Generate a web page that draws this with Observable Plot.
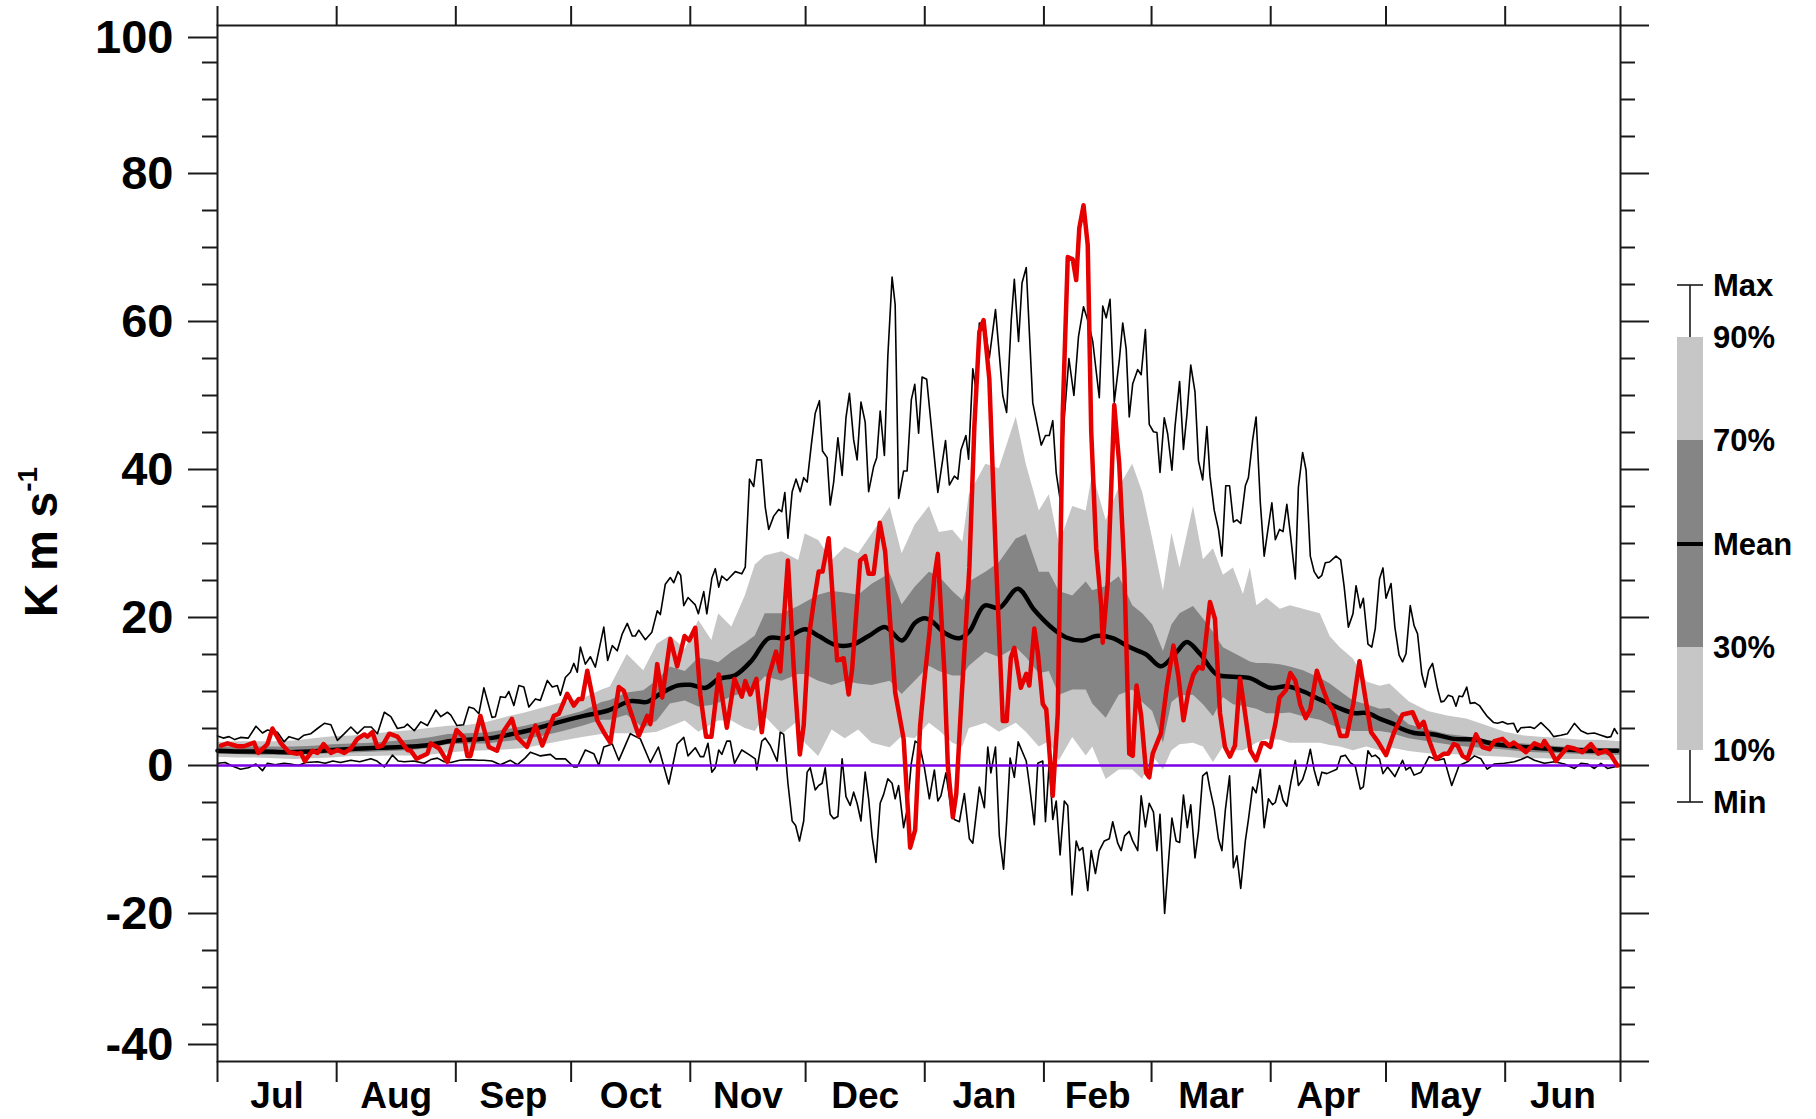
<!DOCTYPE html>
<html><head><meta charset="utf-8">
<script src="https://cdn.jsdelivr.net/npm/d3@7"></script>
<script src="https://cdn.jsdelivr.net/npm/@observablehq/plot@0.6"></script>
<style>
html,body{margin:0;padding:0;background:#fff;}
#chart{position:relative;width:1816px;height:1119px;}
</style></head><body><div id="chart"></div>
<script>
const monthNames = ["Jul","Aug","Sep","Oct","Nov","Dec","Jan","Feb","Mar","Apr","May","Jun"];
const monthStarts = [0,31,62,92,123,153,184,215,243,274,304,335,365];
const monthMids = [15.5,46.5,77,107.5,138,168.5,199.5,229,258.5,289,319.5,350];
const yMajor = [-40,-20,0,20,40,60,80,100];
const yLabelsMid = [-20,0,20,40,60,80];
const yMinor = [-35,-30,-25,-15,-10,-5,5,10,15,25,30,35,45,50,55,65,70,75,85,90,95];
const legendLabels = ["Max","90%","70%","Mean","30%","10%","Min"];

// percentile bands (day of year from 1 July)
const bandDays = [0,5,10,15,20,25,30,35,40,45,50,55,60,65,70,75,80,85,90,95,100,102.2,106.6,110.9,114.4,117.8,121.7,125.2,128.6,130.4,133.8,137.3,139.9,142.5,146.9,151.2,152.9,156.4,159.9,163.3,166.8,170.3,175,178.1,181.5,185.2,187.8,191.3,193.9,195.6,199.9,203.4,207.8,210.4,213.8,216.4,219,222.5,226,227.7,231.2,234.6,238.1,240.7,243.3,246.1,248.3,250.4,253.9,256.5,259.1,261.7,264.3,266.9,268.7,270.4,273,276.5,279.1,282.5,286.9,289.5,292.1,295.5,299,302.5,305,310,315,320,325,330,335,340,345,350,355,360,365];
const q10 = [1.1,1.0,1.0,0.9,0.8,0.9,1.0,1.2,1.2,1.3,1.3,1.4,1.7,1.9,2.0,2.1,2.3,2.8,3.3,3.8,4.2,4.3,4.3,4.3,4.5,5.2,6.0,4.5,5.5,6.0,6.0,5.0,4.6,6.6,4.2,6.0,3.0,1.2,4.8,3.6,4.8,3.0,2.4,3.9,3.6,5.7,4.7,3.0,2.5,5.0,5.7,4.5,5.7,4.5,2.5,3.2,0.6,3.8,1.3,2.5,-1.9,-0.6,-0.6,-1.9,1.3,-0.6,2.0,2.8,3.0,2.5,0.4,2.5,2.0,2.0,2.5,3.0,3.5,3.4,3.0,3.0,3.0,2.7,2.5,2.0,2.5,2.0,2.4,1.9,1.6,1.5,1.4,1.2,1.1,0.9,0.9,0.8,0.8,0.7,0.7];
const q30 = [1.5,1.5,1.4,1.4,1.4,1.5,1.6,1.7,1.8,1.9,2.0,2.3,2.8,2.9,2.9,3.2,3.5,4.0,4.6,5.3,6.1,6.1,6.8,5.0,6.0,8.3,8.7,7.9,8.1,8.4,9.3,9.8,10.5,12.0,11.4,12.3,12.3,11.4,10.8,11.4,11.0,10.8,11.4,9.6,11.4,13.4,12.7,12.1,12.1,13.4,15.3,14.6,15.9,14.6,12.4,12.7,9.5,10.2,10.2,8.3,6.4,9.5,10.2,8.5,7.3,3.0,8.5,9.4,9.5,8.2,6.6,9.2,8.2,8.0,7.8,7.6,7.0,7.0,7.1,6.6,6.1,5.5,5.0,4.6,4.6,4.6,4.4,3.6,3.2,2.8,2.5,2.3,2.1,1.8,1.7,1.6,1.5,1.4,1.4];
const q70 = [2.5,2.5,2.5,2.5,2.5,2.6,2.8,2.9,3.0,3.2,3.4,3.7,4.2,4.3,4.4,4.8,5.3,5.9,6.6,7.3,8.5,8.8,9.8,10.1,11.5,13.3,12.7,14.5,14.2,13.9,15.3,16.5,17.5,20.5,20.5,21.5,22.0,23.0,23.5,23.3,23.0,24.5,25.9,21.7,24.1,26.1,25.5,23.5,22.3,24.8,26.1,27.4,30.6,31.2,26.1,26.1,23.5,22.9,24.8,23.6,24.2,25.5,21.6,20.5,19.0,15.4,19.0,20.5,21.5,19.8,18.0,15.9,15.2,14.5,14.0,13.8,13.8,13.6,13.3,12.8,11.8,11.0,10.0,8.7,8.2,7.6,7.7,5.5,4.8,4.2,3.9,3.4,3.1,2.9,2.7,2.5,2.4,2.3,2.3];
const q90 = [3.1,3.2,3.2,3.2,3.3,3.6,3.9,4.0,4.2,4.5,4.7,5.0,5.3,5.4,5.8,6.5,7.1,7.8,8.5,9.0,10.2,10.6,15.0,12.8,16.4,17.5,15.7,19.6,16.9,20.5,18.7,22.9,27.1,28.3,28.9,27.7,31.3,30.4,27.7,29.5,28.6,31.3,34.9,28.6,32.5,35.0,31.5,31.8,30.2,36.6,40.7,40.1,47.1,40.7,34.4,36.6,29.9,35.0,34.4,39.5,33.1,37.6,40.7,36.9,30.6,23.6,31.4,26.7,35.0,27.8,29.3,25.7,26.7,23.1,26.7,21.6,22.6,21.1,21.6,21.1,20.5,17.4,15.9,14.4,11.3,10.7,11.0,8.6,7.3,6.7,6.3,5.4,4.5,4.0,3.8,3.6,3.4,3.4,3.2];

const meanSeries = [[0,2.0],[6,1.9],[12,1.9],[18,1.8],[24,1.9],[30,2.1],[36,2.25],[42,2.4],[48,2.5],[54,2.7],[60.7,3.3],[66,3.5],[71,3.7],[78,4.4],[83,5.0],[88.4,5.8],[95.3,6.7],[101.4,7.4],[107.4,8.7],[111.8,8.6],[115.2,9.7],[119.6,10.8],[123,10.9],[127,10.5],[130.4,11.7],[134.7,12.2],[139,14.2],[143.4,17.2],[147.7,17.2],[152.9,18.4],[156.4,17.5],[160.7,16.3],[165,16.3],[169.4,17.5],[173.7,18.7],[178.1,16.9],[181.5,19.3],[184.1,19.9],[186,19.4],[189.5,17.8],[193,17.2],[195.6,18.1],[199.5,21.6],[203.4,21.3],[208.2,23.9],[212.5,21.0],[217.3,18.5],[220.8,17.3],[225.1,16.9],[228.6,17.5],[232.9,17.2],[237.2,16.0],[241.6,15.0],[245.5,13.4],[249.6,15.4],[252.2,16.7],[255.6,15.1],[260,12.3],[264.3,12.0],[268.6,11.8],[273.9,10.5],[278.2,10.7],[282.5,10.0],[286.9,8.9],[291.2,7.9],[295.5,7.1],[299,7.1],[302.5,6.3],[306,5.6],[307.9,5.0],[311.3,4.4],[316.5,4.2],[321.7,3.6],[327,3.5],[332.2,2.9],[337.4,2.6],[342.6,2.4],[347.8,2.2],[353,2.1],[358.2,2.0],[364.2,2.0]];

const maxSeries = [[0,4.0],[1.5,3.7],[3,3.9],[4.5,3.5],[6,3.8],[8,3.7],[10,5.3],[11.7,4.4],[13,4.8],[15.6,4.5],[17.3,3.2],[18.6,3.9],[21,3.5],[22.5,4.1],[24.3,4.3],[26,5.0],[27.8,5.7],[29.5,5.5],[31.2,3.4],[33,4.3],[34.7,5.2],[36.4,4.3],[38.2,5.2],[40,5.2],[41.6,4.3],[43.4,7.2],[45.1,6.6],[46.8,5.0],[48.6,5.2],[49.4,5.6],[51.2,4.7],[52.9,5.9],[54.6,5.4],[56.8,7.5],[58.1,6.6],[59.8,7.2],[60.7,6.8],[62.3,5.4],[64,5.5],[65.4,7.9],[66.7,7.7],[68,7.0],[69.3,10.5],[71.4,6.5],[72.3,6.6],[73.6,9.3],[74.9,9.2],[75.8,10.0],[77.1,8.1],[78.4,10.8],[79.7,10.6],[81,7.9],[82.7,9.0],[84,8.8],[85.8,11.5],[87.1,10.6],[88.4,10.8],[89.2,9.5],[90.5,11.9],[91.8,12.6],[92.7,13.8],[93.6,12.6],[94.4,16.0],[95.7,13.7],[97,14.7],[98.3,13.3],[100.5,18.7],[101.5,14.2],[102.7,16.2],[104,15.5],[105.3,17.8],[106.6,19.2],[107.9,17.5],[108.7,17.5],[109.6,18.3],[111.3,17.0],[113,18.0],[114.4,20.9],[115.2,20.4],[116.5,24.5],[117.8,25.4],[118.7,24.7],[119.8,26.2],[120.5,25.7],[121.3,21.6],[122.4,22.7],[124.3,21.7],[125.1,20.5],[126.5,23.5],[127.3,20.5],[128.6,25.3],[129.5,26.6],[130.4,24.1],[131.2,25.6],[132.5,25.0],[134.7,26.2],[136.4,25.9],[137.3,26.8],[138.4,38.7],[139.5,37.7],[140.3,41.3],[141.5,41.3],[142.5,34.9],[143.4,31.9],[144.7,33.7],[146,34.6],[146.8,34.3],[147.6,36.9],[148.4,30.7],[149.5,37.0],[150.5,38.7],[151.6,37.0],[152.5,38.9],[153.4,38.3],[154.5,43.4],[155.5,47.6],[156.6,49.3],[157.4,42.5],[158.6,41.6],[159.4,35.2],[160.3,38.3],[161.4,44.3],[162.5,39.2],[163.5,47.0],[164.4,50.3],[165.5,44.0],[166.4,41.3],[167.4,49.1],[168.5,46.4],[169.4,37.0],[170.7,40.4],[171.5,41.6],[172.4,47.9],[173.5,41.9],[174.4,55.4],[175.5,66.0],[176.3,62.3],[177.2,36.1],[178.5,39.8],[179.4,39.8],[180.5,49.4],[181.4,51.5],[182.4,44.9],[183.3,52.5],[184.5,52.2],[186,44.2],[187.4,36.9],[189.4,43.9],[190.4,37.9],[191.7,39.1],[192.6,38.7],[193.4,42.6],[194.7,44.6],[195.4,41.4],[196.5,53.6],[197.3,50.9],[198.2,59.8],[199.5,59.8],[200.8,55.1],[202.4,61.6],[204.3,50.0],[205.3,47.7],[206.5,60.2],[207.3,65.7],[208.4,57.3],[209.3,65.2],[210.4,67.3],[212.1,49.0],[214.3,43.3],[215.4,44.6],[216.4,44.6],[217.3,46.6],[218.2,39.5],[219.2,36.0],[220.3,47.0],[221.5,55.0],[222.8,50.0],[224,58.0],[225.3,62.0],[226.5,60.0],[227.7,57.3],[229.4,49.7],[230.3,62.1],[231.2,60.5],[232.2,63.0],[233.3,49.1],[234.6,54.7],[235.5,59.8],[236.4,56.3],[237.2,47.1],[238.1,51.6],[239.4,53.5],[240.3,52.8],[241.4,58.9],[242.4,46.1],[243.5,45.1],[244.4,45.0],[245.2,39.6],[246.3,47.0],[247.2,44.8],[248.3,39.9],[249.1,45.8],[250.3,51.9],[251.3,42.7],[252.2,47.4],[253.2,54.1],[254.3,50.5],[255.2,41.2],[256.3,38.6],[257.4,45.8],[258.2,39.1],[259.3,34.5],[260.4,31.9],[261.3,28.3],[262.3,37.8],[263.3,37.8],[264.3,32.9],[265.2,33.2],[266.2,32.7],[267.4,37.8],[268.2,38.9],[269.3,44.0],[270.2,47.1],[271.3,35.5],[272.3,28.3],[273.2,31.6],[274.3,35.5],[275.2,30.5],[276.3,31.9],[277.2,31.6],[278.2,35.3],[279.2,30.9],[280.4,25.2],[281.2,37.6],[282.3,42.3],[283.2,39.9],[284.3,28.3],[285.3,26.2],[286.4,25.3],[287.3,25.7],[288.2,27.4],[289.3,27.5],[291,28.3],[292.2,27.8],[293.1,24.2],[294.2,18.7],[295.4,20.5],[296.2,24.3],[297.3,21.3],[298.1,22.6],[299.3,16.4],[300.3,16.0],[301.2,18.5],[302.3,25.2],[303.2,26.7],[304,22.6],[305.3,24.6],[306.3,18.7],[307.4,14.9],[308.3,14.0],[309.2,15.1],[310.3,21.6],[311.3,18.9],[312.2,17.8],[313.3,12.4],[314.2,10.6],[315.1,12.9],[316.1,13.8],[317.4,10.4],[318.3,8.6],[319.1,8.7],[320.2,9.5],[321.3,9.3],[322.2,8.0],[323,9.4],[323.9,9.3],[325,10.6],[325.9,8.4],[327.1,8.5],[328.3,8.1],[329.1,7.5],[330.4,6.6],[332,5.8],[333,5.7],[334.3,5.9],[335.6,5.6],[337.2,5.7],[338.2,4.5],[339.1,5.1],[341.5,5.2],[342.6,5.0],[344.3,5.8],[346.5,4.7],[347.6,3.9],[349.5,4.1],[351.2,4.3],[353,5.7],[354.7,4.7],[356.4,4.3],[358.2,4.4],[359.9,4.1],[361.6,3.8],[362.5,3.9],[363.4,5.0],[364.2,4.3]];

const minSeries = [[0,0.3],[2,0.4],[4,-0.1],[6,-0.5],[8,-0.3],[10,0.2],[11.7,-0.7],[13,0.3],[15,0.1],[17.3,0.3],[19,0.2],[21,0],[23,0.4],[26,0.5],[28,0.3],[30,0.6],[32,0.4],[34.7,0.7],[37,0.5],[39.9,0.9],[41.5,0.6],[43.4,-0.2],[45.5,1.4],[47,0.6],[48.6,0.5],[51,0.6],[53.8,0.3],[55.5,0.8],[57.2,1.0],[59,0.5],[60.7,0.4],[63,0.7],[65.5,0.8],[68,0.7],[69.3,0.7],[71.4,0.6],[73.6,0.1],[76.2,0.7],[78,0.1],[80,1.0],[81.4,1.8],[83,1.5],[84,1.3],[86.6,1.5],[88,0.9],[90.5,0.9],[92.7,-0.2],[93.6,-0.2],[95.7,2.1],[97.9,1.6],[99.2,0],[100.5,2.5],[102.7,2.9],[104.4,0.7],[107.4,4.3],[110,3.6],[112.6,0.4],[114.7,2.5],[117.4,-2.5],[119.6,2.9],[121.3,3.8],[122.4,1.3],[124.3,2.4],[125.6,1.2],[126.5,1.2],[127.6,3.0],[128.6,-0.9],[129.5,-0.3],[130.4,2.1],[131.2,1.5],[132.5,3.3],[133.4,3.3],[134.5,0.3],[136.4,2.1],[138.2,1.5],[139.9,0.9],[140.3,-0.6],[141.6,3.3],[142.5,3.7],[143.8,2.7],[145.6,0.6],[146.4,4.5],[147.3,4.2],[148.4,-2.4],[149.5,-7.5],[150.4,-8.1],[151.4,-10.2],[152.5,-7.5],[153.4,-0.9],[154.2,-0.3],[155.5,-3.3],[156.4,-2.7],[157.3,-2.4],[158.1,-0.3],[159.4,-6.6],[160.3,-7.2],[161.4,-6.9],[162.5,0.9],[163.5,-4.2],[164.6,-5.4],[165.5,-3.6],[166.4,-5.1],[167.4,-7.5],[168.5,-0.9],[169.4,-4.5],[170.3,-9.6],[171.3,-13.1],[172.4,-5.1],[173.3,-3.9],[174.4,-1.8],[175.5,-2.4],[176.3,-4.5],[177.2,-2.7],[178.5,-8.4],[179.4,-6.0],[180.5,0.3],[181.5,3.3],[182.6,2.9],[183.9,-0.3],[185.2,-4.5],[186.5,-0.6],[187.4,-4.8],[188.2,-4.1],[189.5,-1.0],[190.8,-5.7],[191.7,-7.3],[193,-7.6],[194.3,-3.8],[195.6,-9.9],[196.5,-10.5],[198.2,-2.9],[199.5,-5.7],[200.4,2.5],[201.2,-1.0],[202.4,2.5],[203.4,-9.5],[204.5,-14.0],[205.3,-7.6],[206.2,1.0],[207.3,-1.6],[208.3,3.2],[210.4,0.6],[211.2,-2.5],[212.5,-8.0],[213.4,0.3],[214.7,0.6],[215.4,-7.6],[216.4,0.6],[217.3,-7.3],[218.2,-4.8],[219.2,-12.1],[220.3,-4.8],[221.2,-5.4],[222.3,-17.5],[223.4,-10.2],[224.2,-11.5],[225.1,-11.1],[226.4,-16.9],[227.3,-11.5],[228.4,-14.6],[229.4,-11.5],[230.7,-10.2],[232,-9.9],[232.9,-7.6],[234.2,-10.5],[235.1,-11.5],[236,-9.5],[237.2,-8.9],[238.1,-10.2],[239.4,-11.5],[240.3,-4.1],[241.4,-8.3],[242.4,-5.1],[243.5,-6.3],[244.4,-11.5],[245.2,-6.6],[246.4,-20.0],[247.4,-13.0],[248.3,-7.1],[249.4,-10.2],[250.3,-10.4],[251.3,-4.0],[252.3,-8.4],[253.2,-5.3],[254.3,-12.5],[255.2,-8.9],[256.3,-1.4],[257.4,-0.9],[258.2,-3.2],[259.3,-5.8],[260.4,-9.9],[261.3,-11.5],[262.2,-6.0],[263.3,-1.4],[264.3,-13.8],[265.2,-12.2],[266.2,-16.6],[267.4,-10.2],[268.2,-7.3],[269.3,-2.9],[270.2,-3.7],[271.3,-0.5],[272.3,-8.4],[273.4,-4.5],[274.5,-5.3],[275.2,-5.0],[276.3,-2.7],[277.2,-4.7],[278.2,-5.5],[279.2,-2.4],[280.4,0.7],[281.2,-2.7],[282.3,-1.9],[283.2,-0.4],[284.3,2.2],[285.3,-0.6],[286.4,-2.7],[287.3,-0.9],[288.6,-1.1],[291.2,-0.5],[292.2,1.2],[293.4,1.4],[294.7,0.4],[296,-0.1],[297.3,-3.2],[298.1,-2.9],[299.3,2.0],[300.3,1.2],[301.2,1.4],[302.3,0.9],[303.2,-1.1],[304.4,-0.2],[306.3,-1.5],[308.3,0.7],[309.2,-0.6],[310.3,-0.2],[311.3,-1.3],[313.1,-0.9],[315.2,1.2],[317.4,0.7],[319.1,0.9],[321.1,-2.7],[323,0],[325.2,0.5],[327,1.3],[328.7,0.9],[330.3,-0.5],[332.2,0.2],[334.8,0.3],[337.4,0.5],[339.1,0.8],[340.8,1.2],[342.6,0.7],[345.2,0.3],[347.8,0.5],[350.4,0.2],[353,-0.4],[354.7,0.3],[356.4,0.2],[358.2,-0.4],[359.9,0.3],[361.6,-0.4],[364.2,-0.1]];

const redSeries = [[0.9,2.7],[2.6,3.0],[5.2,2.6],[6.9,2.6],[9.5,3.1],[10.6,1.7],[13,2.9],[14.3,5.0],[16.5,3.0],[18.6,1.8],[20.8,1.6],[21.7,1.7],[22.7,0.6],[24.7,2.0],[26,1.7],[27.6,2.9],[29.5,1.7],[31.2,2.1],[33,1.7],[34.7,2.3],[36.4,3.6],[38.2,4.2],[39,3.9],[40.3,4.5],[41.6,2.5],[42.9,2.7],[44.7,4.3],[46.8,3.9],[49.4,2.1],[50.3,2.0],[51.8,0.9],[54.6,1.6],[55.5,3.0],[57.7,2.3],[59.8,0.5],[62.2,4.8],[64.1,3.8],[65,1.3],[65.8,1.3],[68.4,6.7],[70.6,2.5],[72.7,2.0],[74.5,4.7],[76.6,6.3],[78,3.8],[80.5,2.5],[82.7,5.4],[84.5,2.7],[87.5,6.7],[88.8,7.0],[91,9.7],[92.7,8.1],[94,9.0],[94.9,9.0],[96.2,12.8],[98.8,6.1],[100.5,4.5],[102.2,3.1],[104.4,10.6],[105.7,10.1],[107.4,7.4],[109.6,4.0],[111.8,6.7],[112.6,5.6],[114.4,13.7],[115.7,9.2],[117.8,17.1],[119.6,13.4],[121.5,17.5],[122.7,16.9],[124.3,18.6],[125.6,9.6],[127.1,3.9],[128.5,3.9],[130.4,12.3],[132.5,5.1],[134.5,11.7],[136.4,9.3],[137.3,11.4],[138.6,9.6],[140.2,11.7],[141.6,4.5],[143.4,12.0],[145.3,15.4],[146.4,12.7],[148.4,27.7],[149.9,13.3],[151.5,1.5],[152.5,5.4],[153.8,17.2],[155.1,22.0],[156.4,26.2],[157.4,26.2],[159,30.7],[161.2,14.2],[162.9,14.5],[164.2,9.6],[165.1,13.0],[167.2,27.7],[168.5,28.3],[169.4,25.9],[170.7,25.9],[172.3,32.8],[173.7,28.9],[176.3,9.9],[178.5,3.6],[180.2,-11.1],[181.5,-8.7],[182.8,5.4],[183.9,11.5],[185.2,17.8],[186.5,25.5],[187.4,28.6],[189.1,12.7],[190,0],[191.3,-7.0],[192.2,-3.8],[193.4,7.6],[195.6,26.7],[196.9,45.8],[198.2,58.6],[199.3,60.2],[200.8,52.2],[202.5,28.0],[204.3,6.0],[205.3,6.0],[206.4,14.6],[207.3,15.9],[209,10.5],[210.4,12.4],[211.2,10.8],[212.5,18.5],[213.4,15.3],[214.7,8.3],[215.6,7.6],[217.3,-4.1],[218.6,7.0],[219.9,47.7],[221.2,68.7],[222.5,68.4],[223.4,65.6],[224.2,72.6],[225.3,75.7],[226.4,70.3],[227.3,45.2],[228.6,29.3],[229.9,21.6],[230.3,16.6],[231.6,24.8],[233.3,48.7],[234.6,40.7],[235.9,26.7],[237.2,1.6],[238.1,1.3],[239.1,10.8],[240.3,6.7],[241.6,-1.0],[242.4,-1.6],[243.3,1.6],[245.4,4.3],[247,10.7],[248.7,16.2],[250,12.0],[251.3,6.1],[252.6,10.0],[253.9,12.3],[255.2,13.3],[256.3,13.1],[258.2,22.1],[259.5,19.8],[260.8,7.1],[262.1,2.5],[263.4,1.2],[264.7,2.7],[266,11.8],[267.1,7.9],[268.7,2.0],[270.2,0.7],[271.7,3.0],[272.6,3.0],[273.9,2.5],[275.2,5.6],[276.3,9.2],[278,10.2],[279.1,12.5],[280.4,11.5],[281.7,8.2],[283.1,6.4],[284.3,7.6],[286,12.8],[287.7,10.2],[289,8.4],[290.3,7.4],[292.1,4.0],[293.8,4.0],[295.5,8.4],[297.1,14.1],[298.6,9.2],[300.1,4.5],[301.8,3.3],[304,1.4],[306.1,4.5],[308.3,6.9],[310.9,7.2],[312.6,5.2],[313.8,5.9],[315.2,3.4],[317,0.9],[319.1,1.6],[320.2,1.6],[321.6,2.9],[322.6,2.7],[323.9,1.3],[325.2,0.9],[327.4,4.2],[329.1,2.5],[330.9,2.2],[332.2,3.3],[334.3,3.6],[336.1,2.7],[337.2,3.1],[338.7,2.5],[340.4,1.8],[342.6,3.0],[344.5,2.6],[345.2,3.3],[346.5,2.3],[348.2,0.6],[351.2,2.5],[353,2.3],[355.1,1.8],[357.3,2.9],[359.2,1.6],[361.2,2.0],[362.5,1.4],[364.2,0]];

const bands = bandDays.map((d, i) => ({day: d, q10: q10[i], q30: q30[i], q70: q70[i], q90: q90[i]}));
const pts = arr => arr.map(([day, v]) => ({day, v}));

const FONT = "'Liberation Sans', Arial, Helvetica, sans-serif";
const INK = "#1a1a1a";
const labelStyle = {fontSize: 47, fontWeight: "bold", tickSize: 29, tickPadding: 15, stroke: INK, strokeWidth: 2, label: null, anchor: "left", tickFormat: d => String(d)};

const plot = Plot.plot({
  width: 1816, height: 1119,
  marginLeft: 217, marginRight: 196, marginTop: 25, marginBottom: 58,
  style: {fontFamily: FONT, fontWeight: "bold", background: "#fff", color: "#000", overflow: "visible"},
  x: {domain: [0, 365], label: null},
  y: {domain: [-40, 100], label: null},
  marks: [
    Plot.areaY(bands, {x: "day", y1: "q10", y2: "q90", fill: "#c6c6c6"}),
    Plot.areaY(bands, {x: "day", y1: "q30", y2: "q70", fill: "#858585"}),
    Plot.lineY(pts(maxSeries), {x: "day", y: "v", stroke: "#000", strokeWidth: 1.6}),
    Plot.lineY(pts(minSeries), {x: "day", y: "v", stroke: "#000", strokeWidth: 1.6}),
    Plot.lineY(pts(meanSeries), {x: "day", y: "v", stroke: "#000", strokeWidth: 4.5, curve: "catmull-rom"}),
    Plot.ruleY([0], {stroke: "#7a00e6", strokeWidth: 2.6}),
    Plot.lineY(pts(redSeries), {x: "day", y: "v", stroke: "#e60000", strokeWidth: 4.5, strokeLinejoin: "round"}),
    Plot.frame({stroke: INK, strokeWidth: 2}),
    Plot.axisY({...labelStyle, ticks: yLabelsMid}),
    Plot.axisY({...labelStyle, ticks: [100], dy: 12}),
    Plot.axisY({...labelStyle, ticks: [-40], dy: -17}),
    Plot.axisY({anchor: "left", ticks: yMinor, tickSize: 15, tickFormat: () => "", stroke: INK, strokeWidth: 2, label: null}),
    Plot.axisY({anchor: "right", ticks: yMajor, tickSize: 28, tickFormat: () => "", stroke: INK, strokeWidth: 2, label: null}),
    Plot.axisY({anchor: "right", ticks: yMinor, tickSize: 14, tickFormat: () => "", stroke: INK, strokeWidth: 2, label: null}),
    Plot.axisX({anchor: "bottom", ticks: monthStarts, tickSize: 21, tickFormat: () => "", stroke: INK, strokeWidth: 2, label: null}),
    Plot.axisX({anchor: "top", ticks: monthStarts, tickSize: 20, tickFormat: () => "", stroke: INK, strokeWidth: 2, label: null}),
    Plot.axisX({anchor: "bottom", ticks: monthMids, tickSize: 0, tickPadding: 20, fontSize: 37, fontWeight: "bold", tickFormat: d => monthNames[monthMids.indexOf(d)], label: null})
  ]
});

document.getElementById("chart").appendChild(plot);

const svg = d3.select(plot);
// y-axis title with superscript
const title = svg.append("text")
  .attr("transform", "translate(57,542) rotate(-90)")
  .attr("text-anchor", "middle")
  .attr("font-family", FONT).attr("font-weight", "bold").attr("font-size", 46).attr("fill", "#000");
title.append("tspan").text("K m s");
title.append("tspan").attr("font-size", 28).attr("dy", -20).text("-1");

// legend (percentile key)
const lg = svg.append("g").attr("font-family", FONT).attr("font-weight", "bold");
const lx = 1677, lw = 26, cx = lx + lw / 2;
const ly = [285, 337, 440, 544, 647, 750, 802];
lg.append("line").attr("x1", cx).attr("x2", cx).attr("y1", ly[0]).attr("y2", ly[1]).attr("stroke", INK).attr("stroke-width", 1.6);
lg.append("line").attr("x1", cx).attr("x2", cx).attr("y1", ly[5]).attr("y2", ly[6]).attr("stroke", INK).attr("stroke-width", 1.6);
lg.append("line").attr("x1", lx).attr("x2", lx + lw).attr("y1", ly[0]).attr("y2", ly[0]).attr("stroke", INK).attr("stroke-width", 1.6);
lg.append("line").attr("x1", lx).attr("x2", lx + lw).attr("y1", ly[6]).attr("y2", ly[6]).attr("stroke", INK).attr("stroke-width", 1.6);
lg.append("rect").attr("x", lx).attr("width", lw).attr("y", ly[1]).attr("height", ly[5] - ly[1]).attr("fill", "#c6c6c6");
lg.append("rect").attr("x", lx).attr("width", lw).attr("y", ly[2]).attr("height", ly[4] - ly[2]).attr("fill", "#858585");
lg.append("line").attr("x1", lx).attr("x2", lx + lw).attr("y1", ly[3]).attr("y2", ly[3]).attr("stroke", "#000").attr("stroke-width", 4);
lg.selectAll("text.lab").data(legendLabels).join("text")
  .attr("class", "lab")
  .attr("x", lx + lw + 10).attr("y", (d, i) => ly[i]).attr("dy", "0.36em")
  .attr("text-anchor", "start")
  .attr("font-size", 31).attr("fill", "#000").text(d => d);
</script></body></html>
